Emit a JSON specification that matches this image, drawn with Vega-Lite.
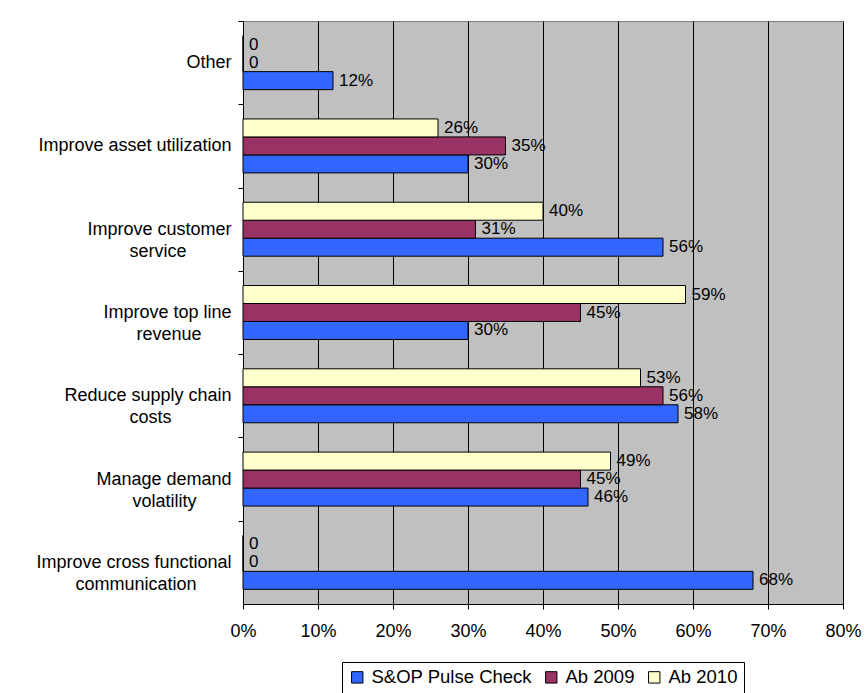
{
  "$schema": "https://vega.github.io/schema/vega-lite/v6.json",
  "autosize": "none",
  "width": 600,
  "height": 583,
  "padding": {"left": 243, "top": 21, "right": 25, "bottom": 89},
  "background": "white",
  "config": {
    "font": "Liberation Sans",
    "view": {"fill": "#C0C0C0", "stroke": "#808080", "strokeWidth": 1}
  },
  "data": {
    "values": [
      {"category": "Other", "series": "S&OP Pulse Check", "value": 0.12},
      {"category": "Other", "series": "Ab 2009", "value": 0},
      {"category": "Other", "series": "Ab 2010", "value": 0},
      {"category": "Improve asset utilization", "series": "S&OP Pulse Check", "value": 0.30},
      {"category": "Improve asset utilization", "series": "Ab 2009", "value": 0.35},
      {"category": "Improve asset utilization", "series": "Ab 2010", "value": 0.26},
      {"category": "Improve customer service", "series": "S&OP Pulse Check", "value": 0.56},
      {"category": "Improve customer service", "series": "Ab 2009", "value": 0.31},
      {"category": "Improve customer service", "series": "Ab 2010", "value": 0.40},
      {"category": "Improve top line revenue", "series": "S&OP Pulse Check", "value": 0.30},
      {"category": "Improve top line revenue", "series": "Ab 2009", "value": 0.45},
      {"category": "Improve top line revenue", "series": "Ab 2010", "value": 0.59},
      {"category": "Reduce supply chain costs", "series": "S&OP Pulse Check", "value": 0.58},
      {"category": "Reduce supply chain costs", "series": "Ab 2009", "value": 0.56},
      {"category": "Reduce supply chain costs", "series": "Ab 2010", "value": 0.53},
      {"category": "Manage demand volatility", "series": "S&OP Pulse Check", "value": 0.46},
      {"category": "Manage demand volatility", "series": "Ab 2009", "value": 0.45},
      {"category": "Manage demand volatility", "series": "Ab 2010", "value": 0.49},
      {"category": "Improve cross functional communication", "series": "S&OP Pulse Check", "value": 0.68},
      {"category": "Improve cross functional communication", "series": "Ab 2009", "value": 0},
      {"category": "Improve cross functional communication", "series": "Ab 2010", "value": 0}
    ]
  },
  "encoding": {
    "y": {
      "field": "category",
      "type": "nominal",
      "sort": ["Other", "Improve asset utilization", "Improve customer service", "Improve top line revenue", "Reduce supply chain costs", "Manage demand volatility", "Improve cross functional communication"],
      "scale": {"paddingInner": 0, "paddingOuter": 0},
      "axis": {
        "title": null,
        "domainColor": "black",
        "tickColor": "black",
        "tickOffset": -41.64,
        "labelOffset": 41.64,
        "tickSize": 5,
        "labelPadding": 7,
        "labelFontSize": 18,
        "labelColor": "black",
        "labelLineHeight": 22,
        "labelLimit": 300,
        "labelExpr": "datum.value == 'Improve customer service' ? ['Improve customer', 'service\u00a0\u00a0\u00a0\u00a0\u00a0\u00a0\u00a0\u00a0\u00a0\u2060'] : datum.value == 'Improve top line revenue' ? ['Improve top line', 'revenue\u00a0\u00a0\u00a0\u00a0\u00a0\u00a0\u2060'] : datum.value == 'Reduce supply chain costs' ? ['Reduce supply chain', 'costs\u00a0\u00a0\u00a0\u00a0\u00a0\u00a0\u00a0\u00a0\u00a0\u00a0\u00a0\u00a0\u2060'] : datum.value == 'Manage demand volatility' ? ['Manage demand', 'volatility\u00a0\u00a0\u00a0\u00a0\u00a0\u00a0\u00a0\u2060'] : datum.value == 'Improve cross functional communication' ? ['Improve cross functional', 'communication\u00a0\u00a0\u00a0\u00a0\u00a0\u00a0\u00a0\u2060'] : datum.value"
      }
    },
    "yOffset": {
      "field": "series",
      "type": "nominal",
      "sort": ["Ab 2010", "Ab 2009", "S&OP Pulse Check"],
      "scale": {"paddingInner": 0, "paddingOuter": 0.815}
    },
    "x": {
      "field": "value",
      "type": "quantitative",
      "scale": {"domain": [0, 0.8], "nice": false},
      "axis": {
        "title": null,
        "values": [0, 0.1, 0.2, 0.3, 0.4, 0.5, 0.6, 0.7, 0.8],
        "format": ".0%",
        "grid": true,
        "gridColor": "black",
        "gridOpacity": 1,
        "gridWidth": 1,
        "domainColor": "black",
        "tickColor": "black",
        "tickSize": 5,
        "labelPadding": 13,
        "labelFontSize": 18,
        "labelColor": "black",
        "labelFlush": false
      }
    }
  },
  "layer": [
    {
      "mark": {"type": "bar", "stroke": "black", "strokeWidth": 1},
      "encoding": {
        "color": {
          "field": "series",
          "type": "nominal",
          "scale": {"domain": ["S&OP Pulse Check", "Ab 2009", "Ab 2010"], "range": ["#3366FF", "#993366", "#FFFFCC"]},
          "legend": {
            "title": null,
            "orient": "none",
            "legendX": 99,
            "legendY": 641,
            "direction": "horizontal",
            "strokeColor": "black",
            "fillColor": "white",
            "padding": 6,
            "symbolType": "square",
            "symbolSize": 130,
            "symbolStrokeColor": "black",
            "symbolStrokeWidth": 1,
            "symbolOpacity": 1,
            "labelFontSize": 18.5,
            "labelColor": "black",
            "labelOffset": 5,
            "columnPadding": 10,
            "labelLimit": 300
          }
        }
      }
    },
    {
      "mark": {"type": "text", "align": "left", "baseline": "middle", "dx": 6, "fontSize": 17, "color": "black"},
      "encoding": {
        "text": {
          "condition": {"test": "datum.value === 0", "value": "0"},
          "field": "value",
          "type": "quantitative",
          "format": ".0%"
        }
      }
    }
  ]
}
